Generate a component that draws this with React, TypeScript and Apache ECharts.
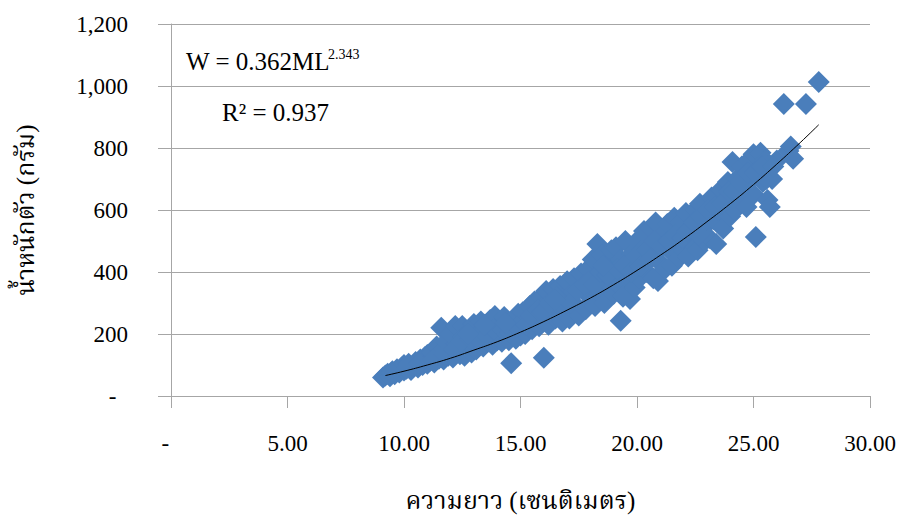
import React, { useEffect, useRef } from 'react';
import * as echarts from 'echarts';

// Fish total length (cm) and body weight (g)
const lengthCm: number[] = [
  9.1, 9.2, 9.3, 9.4, 9.5, 9.6, 9.7, 9.8, 9.9, 10.0, 10.0,
  10.1, 10.2, 10.3, 10.4, 10.5, 10.6, 10.7, 10.8, 10.9, 11.0, 11.0,
  11.1, 11.2, 11.3, 11.4, 11.5, 11.6, 11.6, 11.7, 11.8, 11.9, 12.0, 12.0,
  12.1, 12.2, 12.3, 12.4, 12.5, 12.5, 12.6, 12.7, 12.8, 12.9, 13.0, 13.0,
  13.1, 13.2, 13.3, 13.4, 13.5, 13.6, 13.7, 13.8, 13.9, 14.0, 14.0,
  14.1, 14.2, 14.3, 14.4, 14.5, 14.6, 14.6, 14.7, 14.8, 14.9, 15.0, 15.0,
  15.1, 15.2, 15.3, 15.4, 15.5, 15.6, 15.7, 15.8, 15.9, 16.0, 16.0, 16.0,
  16.1, 16.2, 16.3, 16.4, 16.5, 16.6, 16.7, 16.8, 16.9, 17.0, 17.0,
  17.1, 17.2, 17.3, 17.4, 17.5, 17.6, 17.7, 17.8, 17.9, 18.0, 18.0,
  18.1, 18.2, 18.3, 18.3, 18.4, 18.5, 18.6, 18.7, 18.8, 18.9, 19.0, 19.0,
  19.1, 19.2, 19.3, 19.3, 19.4, 19.5, 19.6, 19.7, 19.8, 19.9, 20.0, 20.0,
  20.1, 20.2, 20.3, 20.4, 20.5, 20.6, 20.7, 20.8, 20.9, 20.9, 21.0,
  21.1, 21.2, 21.3, 21.4, 21.5, 21.6, 21.7, 21.8, 21.9, 22.0, 22.0,
  22.1, 22.2, 22.3, 22.4, 22.5, 22.6, 22.7, 22.8, 22.9, 23.0, 23.0,
  23.1, 23.2, 23.3, 23.4, 23.5, 23.6, 23.7, 23.8, 23.9, 24.0, 24.0,
  24.1, 24.2, 24.3, 24.4, 24.5, 24.6, 24.7, 24.8, 24.9, 25.0, 25.0,
  25.1, 25.2, 25.3, 25.4, 25.5, 25.6, 25.6, 25.7, 25.8, 26.0,
  26.3, 26.5, 26.6, 26.7, 27.25, 27.8,
  9.45, 10.15, 10.65, 11.25, 11.75,
  12.15, 12.45, 12.85, 13.25, 13.55, 13.85, 13.45, 12.75,
  14.25, 14.55, 14.85, 15.25, 15.45, 15.75, 15.95, 14.35,
  16.25, 16.55, 16.85, 17.15, 17.45, 17.75, 17.95, 16.45,
  18.15, 18.45, 18.75, 19.15, 19.45, 19.75, 19.95, 18.55,
  20.15, 20.45, 20.75, 21.05, 21.35, 21.65, 21.95, 20.55,
  22.15, 22.45, 22.75, 23.05, 23.35, 23.65, 23.95, 22.65,
  24.15, 24.45, 24.75, 25.05, 25.35, 25.55, 25.85,
];
const weightG: number[] = [
  60, 66, 72, 64, 80, 70, 86, 76, 92, 82, 100,
  88, 104, 84, 96, 110, 92, 118, 100, 126, 104, 132,
  112, 140, 108, 160, 120, 220, 145, 118, 175, 130, 150, 200,
  124, 226, 165, 135, 226, 190, 130, 160, 210, 140, 232, 180,
  150, 200, 240, 160, 215, 175, 245, 165, 258, 200, 180,
  230, 175, 255, 195, 180, 106, 240, 210, 185, 265, 225, 195,
  270, 200, 245, 290, 215, 305, 260, 225, 320, 123, 250, 290,
  339, 230, 275, 345, 250, 300, 355, 240, 320, 370, 270,
  250, 330, 380, 290, 260, 395, 340, 280, 410, 330, 300,
  440, 290, 490, 380, 330, 455, 300, 420, 360, 470, 330, 400,
  480, 360, 243, 440, 320, 500, 390, 313, 460, 350, 500, 420,
  380, 470, 532, 400, 450, 540, 380, 560, 371, 480, 430,
  520, 410, 555, 470, 420, 575, 500, 445, 560, 470, 520,
  590, 450, 540, 490, 600, 470, 620, 540, 500, 590, 555,
  510, 640, 570, 490, 600, 665, 540, 620, 690, 580, 650,
  755, 600, 700, 640, 740, 670, 610, 760, 700, 650, 780,
  513, 720, 785, 690, 760, 632, 740, 610, 700, 760,
  942, 790, 805, 765, 942, 1013,
  74, 92, 104, 118, 135,
  150, 175, 185, 180, 195, 215, 230, 200,
  215, 205, 225, 230, 260, 280, 270, 235,
  300, 320, 290, 300, 340, 360, 370, 310,
  360, 400, 390, 410, 420, 400, 450, 420,
  420, 470, 500, 480, 500, 520, 510, 440,
  530, 560, 580, 600, 610, 620, 660, 520,
  660, 690, 720, 720, 740, 700, 740,
];

// Power trend line W = 0.362 L^2.343
const trendLength: number[] = [9.2, 10, 11, 12, 13, 14, 15, 16, 17, 18, 19, 20, 21, 22, 23, 24, 25, 26, 27, 27.8];
const trendWeight: number[] = [66, 80, 100, 122, 148, 175, 206, 240, 277, 316, 359, 405, 454, 506, 562, 620, 682, 748, 817, 875];

const xTitle = 'ความยาว (เซนติเมตร)';
const yTitle = 'น้ำหนักตัว (กรัม)';
const eqMain = 'W = 0.362ML';
const eqExp = '2.343';
const r2Text = 'R² = 0.937';

const FONT = "'Liberation Serif', 'Times New Roman', 'Noto Serif Thai', 'Noto Sans Thai', serif";
const GRID_GRAY = '#a6a6a6';

export default function App() {
  const ref = useRef<HTMLDivElement>(null);
  useEffect(() => {
    if (!ref.current) return;
    const chart = echarts.init(ref.current, null, { renderer: 'svg' });
    const scatterData = lengthCm.map((x, i) => [x, weightG[i]]);
    const trendData = trendLength.map((x, i) => [x, trendWeight[i]]);
    chart.setOption({
      animation: false,
      backgroundColor: '#ffffff',
      grid: { left: 171, right: 31, top: 24, bottom: 125, containLabel: false },
      xAxis: {
        type: 'value',
        min: 0,
        max: 30,
        interval: 5,
        name: xTitle,
        nameLocation: 'middle',
        nameGap: 92,
        nameTextStyle: { fontFamily: FONT, fontSize: 25, color: '#000' },
        axisLine: { show: true, lineStyle: { color: GRID_GRAY, width: 1 } },
        axisTick: { show: true, length: 12, lineStyle: { color: GRID_GRAY } },
        splitLine: { show: false },
        axisLabel: {
          margin: 36,
          fontFamily: FONT,
          fontSize: 23,
          color: '#000',
          formatter: (v: number) => (v === 0 ? '-  ' : v.toFixed(2)),
        },
      },
      yAxis: {
        type: 'value',
        min: 0,
        max: 1200,
        interval: 200,
        name: yTitle,
        nameLocation: 'middle',
        nameGap: 133,
        nameRotate: 90,
        nameTextStyle: { fontFamily: FONT, fontSize: 25, color: '#000' },
        axisLine: { show: true, lineStyle: { color: GRID_GRAY, width: 1 } },
        axisTick: { show: true, length: 13, lineStyle: { color: GRID_GRAY } },
        splitLine: { show: true, lineStyle: { color: GRID_GRAY, width: 1 } },
        axisLabel: {
          margin: 43,
          fontFamily: FONT,
          fontSize: 23,
          color: '#000',
          formatter: (v: number) => (v === 0 ? '-  ' : v.toLocaleString('en-US')),
        },
      },
      series: [
        {
          type: 'scatter',
          data: scatterData,
          symbol: 'diamond',
          symbolSize: 22,
          itemStyle: { color: '#4A7EBB', opacity: 1 },
          z: 2,
        },
        {
          type: 'line',
          data: trendData,
          showSymbol: false,
          smooth: true,
          lineStyle: { color: '#000', width: 1 },
          z: 3,
        },
      ],
      graphic: [
        {
          type: 'text',
          left: 186,
          top: 49,
          style: { text: eqMain, fontFamily: FONT, fontSize: 25, fill: '#000' },
        },
        {
          type: 'text',
          left: 328,
          top: 47,
          style: { text: eqExp, fontFamily: FONT, fontSize: 14, fill: '#000' },
        },
        {
          type: 'text',
          left: 222,
          top: 100,
          style: { text: r2Text, fontFamily: FONT, fontSize: 25, fill: '#000' },
        },
      ],
    });
    return () => chart.dispose();
  }, []);
  return (
    <div
      ref={ref}
      style={{ position: 'absolute', left: 0, top: 0, width: 901, height: 521, background: '#fff' }}
    />
  );
}
